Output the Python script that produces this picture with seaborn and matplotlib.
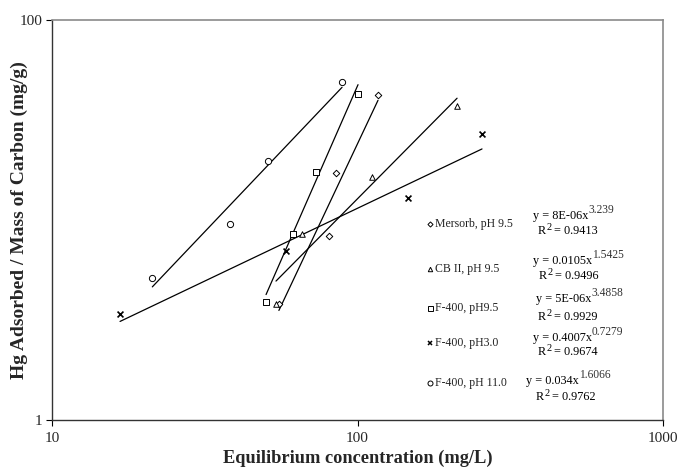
import numpy as np
import pandas as pd
import matplotlib
matplotlib.use("Agg")
import matplotlib.pyplot as plt
import seaborn as sns

# ---------------- data ----------------
series_names = ["Mersorb, pH 9.5", "CB II, pH 9.5", "F-400, pH9.5", "F-400, pH3.0", "F-400, pH 11.0"]

mersorb_x = [55.3, 80.7, 85.0, 116.7]
mersorb_y = [3.80, 8.32, 17.2, 42.2]
cb2_x = [54.1, 65.8, 111.6, 211.8]
cb2_y = [3.80, 8.51, 16.4, 37.2]
f400_95_x = [50.2, 61.5, 73.1, 100.4]
f400_95_y = [3.89, 8.51, 17.4, 42.7]
f400_30_x = [16.7, 58.3, 146.3, 255.6]
f400_30_y = [3.39, 7.00, 12.9, 26.9]
f400_110_x = [21.3, 38.3, 50.9, 89.0]
f400_110_y = [5.13, 9.55, 19.7, 49.0]

# power-law fit coefficients y = a * x^b (from the chart's equations)
fit_a = [8e-6, 0.0105, 5e-6, 0.4007, 0.034]
fit_b = [3.239, 1.5425, 3.4858, 0.7279, 1.6066]
fit_eq = ["8E-06x", "0.0105x", "5E-06x", "0.4007x", "0.034x"]
fit_exp = ["3.239", "1.5425", "3.4858", "0.7279", "1.6066"]
fit_r2 = ["0.9413", "0.9496", "0.9929", "0.9674", "0.9762"]

xs = [mersorb_x, cb2_x, f400_95_x, f400_30_x, f400_110_x]
ys = [mersorb_y, cb2_y, f400_95_y, f400_30_y, f400_110_y]

rows = []
for name, xx, yy in zip(series_names, xs, ys):
    for a, b in zip(xx, yy):
        rows.append({"series": name, "x": a, "y": b})
df = pd.DataFrame(rows)

line_rows = []
for name, xx, a, b in zip(series_names, xs, fit_a, fit_b):
    for xv in (min(xx), max(xx)):
        line_rows.append({"series": name, "x": xv, "y": a * xv ** b})
ldf = pd.DataFrame(line_rows)

# ---------------- style ----------------
sns.set_theme(style="white")
plt.rcParams["font.family"] = ["Liberation Serif", "DejaVu Serif"]

fig = plt.figure(figsize=(6.79, 4.67), dpi=100)
ax = fig.add_axes([52 / 679, 1 - 420 / 467, (663 - 52) / 679, (420 - 20) / 467])

ax.set_xscale("log")
ax.set_yscale("log")

# fit lines
for name in series_names:
    sub = ldf[ldf.series == name]
    sns.lineplot(data=sub, x="x", y="y", ax=ax, color="black", lw=0.9,
                 estimator=None, sort=False, legend=False)

markers = ["D", "^", "s", "x", "o"]
msizes = [11, 16, 20, 18, 20]
for name, m, s in zip(series_names, markers, msizes):
    sub = df[df.series == name]
    if m == "x":
        sns.scatterplot(data=sub, x="x", y="y", ax=ax, marker=m, s=s,
                        color="black", linewidth=1.2, legend=False, zorder=3)
    else:
        sns.scatterplot(data=sub, x="x", y="y", ax=ax, marker=m, s=s,
                        facecolor="white", edgecolor="black", linewidth=0.7,
                        legend=False, zorder=3)

ax.set_xlim(10, 1000)
ax.set_ylim(1, 100)
ax.set_xticks([10, 100, 1000])
ax.set_xticklabels(["10", "100", "1000"])
ax.set_yticks([1, 100])
ax.set_yticklabels(["1", "100"])
ax.minorticks_off()
ax.tick_params(axis="both", which="major", direction="out", length=4, width=0.8,
               color="black", labelsize=11, bottom=True, left=True)
ax.tick_params(axis="x", pad=5)
ax.tick_params(axis="y", pad=3)

for side in ["left", "bottom"]:
    ax.spines[side].set_color("#333333")
    ax.spines[side].set_linewidth(1.0)
for side in ["top", "right"]:
    ax.spines[side].set_color("#8a8a8a")
    ax.spines[side].set_linewidth(1.2)

ax.set_xlabel("Equilibrium concentration (mg/L)", fontsize=13.2, fontweight="bold", labelpad=3)
ax.set_ylabel("")


def fx(px):
    return px / 679


def fy(py):
    return 1 - py / 467


fig.text(fx(19), fy(220), "Hg Adsorbed / Mass of Carbon (mg/g)", fontsize=14,
         fontweight="bold", rotation=90, ha="center", va="center")

# legend-like annotations and equations
legend_y = [224, 269, 308, 343, 383]
eq_pos = [(533, 216), (533, 261), (536, 299), (533, 338), (526, 381)]
r2_pos = [(538, 231), (539, 276), (538, 317), (538, 352), (536, 397)]
leg_marker = ["D", "^", "s", "x", "o"]
leg_ms = [2.6, 3.2, 3.6, 3.4, 3.6]
fs = 8.8

for i, name in enumerate(series_names):
    mk = leg_marker[i]
    if mk == "x":
        fig.lines.append(plt.Line2D([fx(430)], [fy(legend_y[i])], marker=mk, ms=leg_ms[i],
                                    color="black", mew=1.1, transform=fig.transFigure))
    else:
        fig.lines.append(plt.Line2D([fx(430)], [fy(legend_y[i])], marker=mk, ms=leg_ms[i],
                                    mfc="white", mec="black", mew=0.7, transform=fig.transFigure))
    fig.text(fx(435), fy(legend_y[i]), name, fontsize=8.5, va="center", ha="left", color="#222222")
    ex, ey = eq_pos[i]
    t = fig.text(fx(ex), fy(ey), "y = " + fit_eq[i], fontsize=fs, va="center", ha="left",
                 color="black")
    ax.annotate(fit_exp[i], xy=(1.0, 0.5), xycoords=t, fontsize=8.3, ha="left", va="bottom",
                color="#333333", annotation_clip=False)
    rx, ry = r2_pos[i]
    tr = fig.text(fx(rx), fy(ry), "R", fontsize=fs, va="center", ha="left", color="black")
    ax.annotate("2", xy=(1.0, 0.4), xycoords=tr, fontsize=7.5, ha="left", va="bottom",
                color="black", annotation_clip=False)
    ax.annotate("= " + fit_r2[i], xy=(1.0, 0.5), xycoords=tr, xytext=(5.5, 0),
                textcoords="offset points", fontsize=fs, ha="left", va="center",
                color="black", annotation_clip=False)

fig.savefig("out.png", dpi=100, facecolor="white")
